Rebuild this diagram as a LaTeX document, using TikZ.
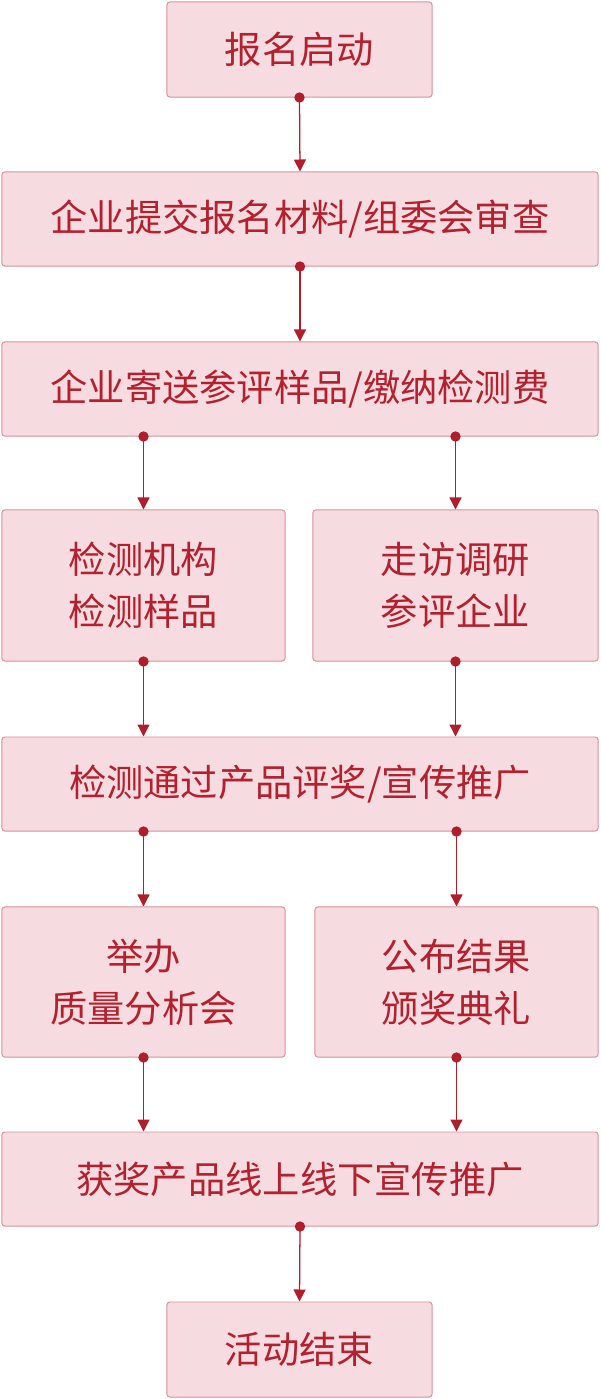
\documentclass[tikz,border=0pt]{standalone}
\usepackage{fontspec}
\usepackage{tikz}
\usetikzlibrary{arrows.meta}
\newfontfamily\cjk{Noto Sans CJK SC}
\definecolor{boxfill}{HTML}{F6DCE0}
\definecolor{boxline}{HTML}{D8909B}
\definecolor{textred}{HTML}{B3202E}
\definecolor{linkred}{HTML}{B01E2C}
\tikzset{
  flowbox/.style={draw=boxline, fill=boxfill, line width=0.7pt, rounded corners=2pt,
    text=textred, font=\cjk\fontsize{26.5}{37}\selectfont, align=center, inner sep=0pt},
  link/.style={draw=linkred, line width=0.9pt, -{Triangle[width=0.3cm,length=0.3cm]}}
}
\newcommand{\flowlink}[2]{\fill[linkred] (#1) circle (0.13cm); \draw[link] (#1) -- (#2);}

\begin{document}
\begin{tikzpicture}[x=0.025cm, y=-0.025cm]
        \useasboundingbox (0,0) rectangle (600,1399);
        %boxes
        \node[flowbox, minimum width=6.625cm, minimum height=2.375cm] (start) at (299.5,49.5) {报名启动};
        \node[flowbox, minimum width=14.9cm, minimum height=2.35cm] (apply) at (300,219) {企业提交报名材料/组委会审查};
        \node[flowbox, minimum width=14.9cm, minimum height=2.35cm] (send) at (300,389) {企业寄送参评样品/缴纳检测费};
        \node[flowbox, minimum width=7.075cm, minimum height=3.775cm] (test) at (143.5,585.5) {检测机构\\检测样品};
        \node[flowbox, minimum width=7.125cm, minimum height=3.775cm] (visit) at (455.5,585.5) {走访调研\\参评企业};
        \node[flowbox, minimum width=14.9cm, minimum height=2.35cm] (award) at (300,784) {检测通过产品评奖/宣传推广};
        \node[flowbox, minimum width=7.075cm, minimum height=3.75cm] (meet) at (143.5,982) {举办\\质量分析会};
        \node[flowbox, minimum width=7.075cm, minimum height=3.75cm] (result) at (456.5,982) {公布结果\\颁奖典礼};
        \node[flowbox, minimum width=14.9cm, minimum height=2.35cm] (promo) at (300,1179) {获奖产品线上线下宣传推广};
        \node[flowbox, minimum width=6.625cm, minimum height=2.375cm] (finish) at (299.5,1349.5) {活动结束};
        %links
        \flowlink{start.south}{apply.north}
        \flowlink{apply.south}{send.north}
        \flowlink{send.south -| test.north}{test.north}
        \flowlink{send.south -| visit.north}{visit.north}
        \flowlink{test.south}{test.south |- award.north}
        \flowlink{visit.south}{visit.south |- award.north}
        \flowlink{award.south -| meet.north}{meet.north}
        \flowlink{award.south -| result.north}{result.north}
        \flowlink{meet.south}{meet.south |- promo.north}
        \flowlink{result.south}{result.south |- promo.north}
        \flowlink{promo.south}{finish.north}
    \end{tikzpicture}
\end{document}
